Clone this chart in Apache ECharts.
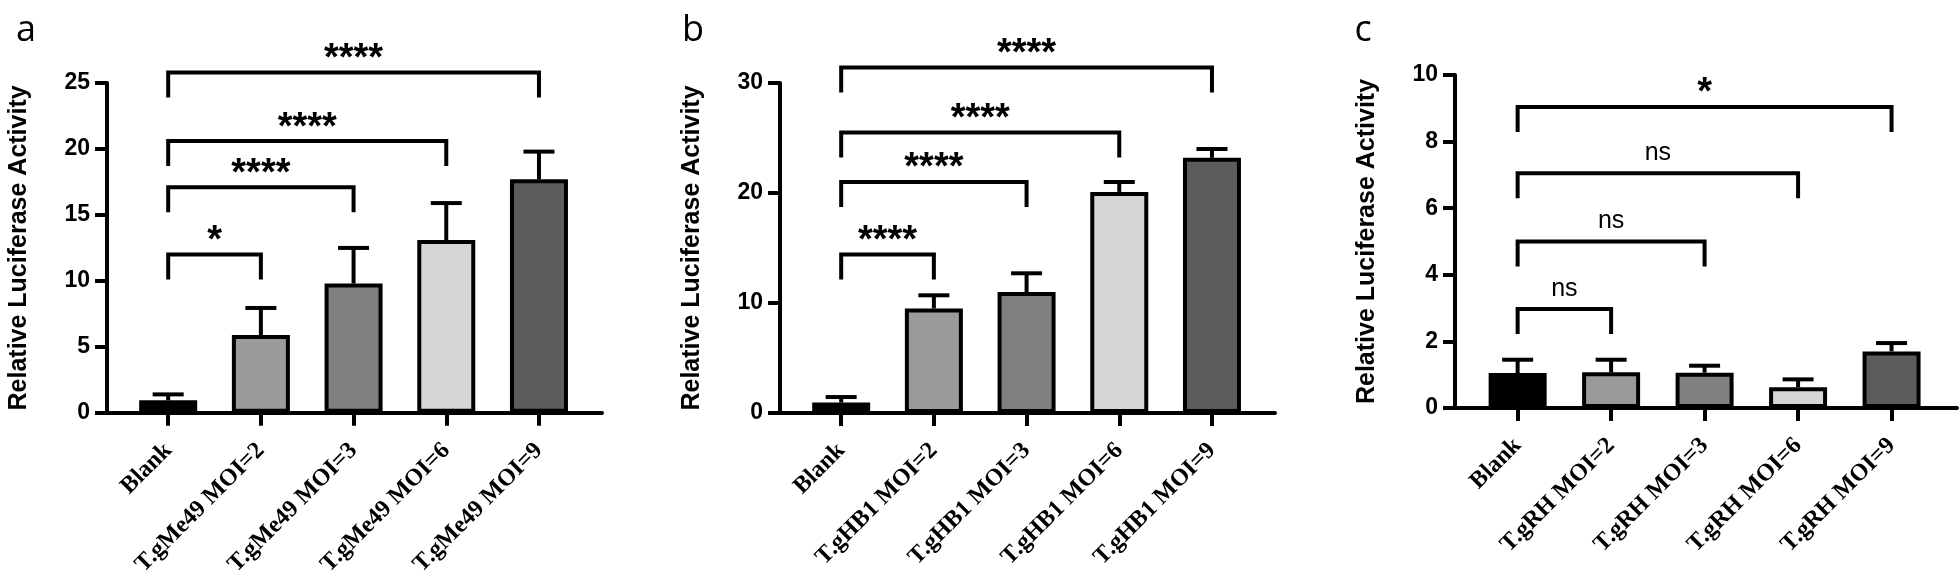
<!DOCTYPE html>
<html>
<head>
<meta charset="utf-8">
<script src="https://cdn.jsdelivr.net/npm/echarts@6/dist/echarts.min.js"></script>
<style>
  html, body { margin: 0; padding: 0; background: #fff; }
  #chart { width: 1960px; height: 579px; }
</style>
</head>
<body>
<div id="chart"></div>
<script>
// --- data ---
const categoriesA = ['Blank', 'T.gMe49 MOI=2', 'T.gMe49 MOI=3', 'T.gMe49 MOI=6', 'T.gMe49 MOI=9'];
const categoriesB = ['Blank', 'T.gHB1 MOI=2', 'T.gHB1 MOI=3', 'T.gHB1 MOI=6', 'T.gHB1 MOI=9'];
const categoriesC = ['Blank', 'T.gRH MOI=2', 'T.gRH MOI=3', 'T.gRH MOI=6', 'T.gRH MOI=9'];

const valuesA = [0.95, 5.9, 9.8, 13.1, 17.7];
const errorsA = [0.45, 2.05, 2.7, 2.8, 2.1];
const valuesB = [0.95, 9.5, 11.0, 20.1, 23.2];
const errorsB = [0.5, 1.2, 1.7, 0.9, 0.8];
const valuesC = [1.05, 1.07, 1.06, 0.62, 1.70];
const errorsC = [0.40, 0.38, 0.21, 0.24, 0.25];

// [from index, to index, bracket height, label]
const bracketsA = [[0, 1, 12.0, '*'], [0, 2, 17.1, '****'], [0, 3, 20.6, '****'], [0, 4, 25.8, '****']];
const bracketsB = [[0, 1, 14.4, '****'], [0, 2, 21.0, '****'], [0, 3, 25.5, '****'], [0, 4, 31.4, '****']];
const bracketsC = [[0, 1, 2.97, 'ns'], [0, 2, 5.0, 'ns'], [0, 3, 7.05, 'ns'], [0, 4, 9.04, '*']];

// [min, max, interval]
const yTicksA = [0, 25, 5];
const yTicksB = [0, 30, 10];
const yTicksC = [0, 10, 2];

const barColors = ['#000000', '#9a9a9a', '#7f7f7f', '#d6d6d6', '#5c5c5c'];

const myChart = echarts.init(document.getElementById('chart'));

const panels = [
    {cats: categoriesA, vals: valuesA, errs: errorsA, brackets: bracketsA, ticks: yTicksA,
        grid: {left: 107, top: 83, width: 495, height: 330}, xr: [-0.66, 4.68]},
    {cats: categoriesB, vals: valuesB, errs: errorsB, brackets: bracketsB, ticks: yTicksB,
        grid: {left: 780, top: 83, width: 495, height: 330}, xr: [-0.66, 4.68]},
    {cats: categoriesC, vals: valuesC, errs: errorsC, brackets: bracketsC, ticks: yTicksC,
        grid: {left: 1455, top: 75, width: 502, height: 333}, xr: [-0.67, 4.7]},
];

const grids = [], xAxes = [], yAxes = [], series = [];

panels.forEach((p, i) => {
    grids.push(p.grid);
    xAxes.push({
        type: 'value',
        gridIndex: i,
        min: p.xr[0],
        max: p.xr[1],
        splitLine: {show: false},
        axisLine: {show: true, onZero: false, lineStyle: {color: '#000', width: 4}},
        axisTick: {show: true, customValues: [0, 1, 2, 3, 4], length: 13, lineStyle: {color: '#000', width: 4}},
        axisLabel: {
            customValues: [0, 1, 2, 3, 4],
            formatter: v => p.cats[Math.round(v)],
            rotate: 45,
            margin: 34,
            fontFamily: 'Liberation Serif',
            fontWeight: 'bold',
            fontSize: 24,
            color: '#000',
        },
    });
    yAxes.push({
        type: 'value',
        gridIndex: i,
        min: p.ticks[0],
        max: p.ticks[1],
        interval: p.ticks[2],
        name: 'Relative Luciferase Activity',
        nameLocation: 'middle',
        nameGap: 75,
        nameTextStyle: {fontFamily: 'Liberation Sans', fontWeight: 'bold', fontSize: 25, color: '#000'},
        splitLine: {show: false},
        axisLine: {show: true, onZero: false, lineStyle: {color: '#000', width: 4}},
        axisTick: {show: true, length: 12, lineStyle: {color: '#000', width: 4}},
        axisLabel: {margin: 17, fontFamily: 'Liberation Sans', fontWeight: 'bold', fontSize: 23, color: '#000'},
    });

    // bars
    series.push({
        type: 'bar',
        xAxisIndex: i,
        yAxisIndex: i,
        barWidth: 58,
        data: p.vals.map((v, k) => ({value: [k, v], itemStyle: {color: barColors[k]}})),
        itemStyle: {borderColor: '#000', borderWidth: 4},
        z: 2,
    });

    // error bars (upper only)
    series.push({
        type: 'custom',
        xAxisIndex: i,
        yAxisIndex: i,
        clip: false,
        z: 3,
        data: p.vals.map((v, k) => [k, v, v + p.errs[k]]),
        renderItem: (params, api) => {
            const b = api.coord([api.value(0), api.value(1)]);
            const t = api.coord([api.value(0), api.value(2)]);
            const style = {stroke: '#000', lineWidth: 4};
            return {
                type: 'group',
                children: [
                    {type: 'line', shape: {x1: b[0], y1: b[1], x2: t[0], y2: t[1]}, style},
                    {type: 'line', shape: {x1: t[0] - 15.5, y1: t[1], x2: t[0] + 15.5, y2: t[1]}, style},
                ],
            };
        },
    });

    // significance brackets
    series.push({
        type: 'custom',
        xAxisIndex: i,
        yAxisIndex: i,
        clip: false,
        z: 4,
        data: p.brackets,
        renderItem: (params, api) => {
            const l = api.coord([api.value(0), api.value(2)]);
            const r = api.coord([api.value(1), api.value(2)]);
            const label = p.brackets[params.dataIndex][3];
            const isStar = label !== 'ns';
            return {
                type: 'group',
                children: [
                    {
                        type: 'polyline',
                        shape: {points: [[l[0], l[1] + 25], [l[0], l[1]], [r[0], r[1]], [r[0], r[1] + 25]]},
                        style: {stroke: '#000', lineWidth: 4, fill: null, lineJoin: 'miter'},
                    },
                    {
                        type: 'text',
                        style: {
                            text: label,
                            x: (l[0] + r[0]) / 2,
                            y: l[1] - (isStar ? 13 : 20),
                            align: 'center',
                            verticalAlign: 'middle',
                            font: isStar ? 'bold 38px "Liberation Sans"' : '25px "Liberation Sans"',
                            fill: '#000',
                        },
                    },
                ],
            };
        },
    });
});

const option = {
    backgroundColor: '#fff',
    animation: false,
    grid: grids,
    xAxis: xAxes,
    yAxis: yAxes,
    series: series,
    graphic: [
        {type: 'text', x: 26, y: 31, style: {text: 'a', font: '36px "Open Sans"', fill: '#000', align: 'center', verticalAlign: 'middle'}},
        {type: 'text', x: 693, y: 31, style: {text: 'b', font: '36px "Open Sans"', fill: '#000', align: 'center', verticalAlign: 'middle'}},
        {type: 'text', x: 1363, y: 31, style: {text: 'c', font: '36px "Open Sans"', fill: '#000', align: 'center', verticalAlign: 'middle'}},
    ],
};

option && myChart.setOption(option);
</script>
</body>
</html>
